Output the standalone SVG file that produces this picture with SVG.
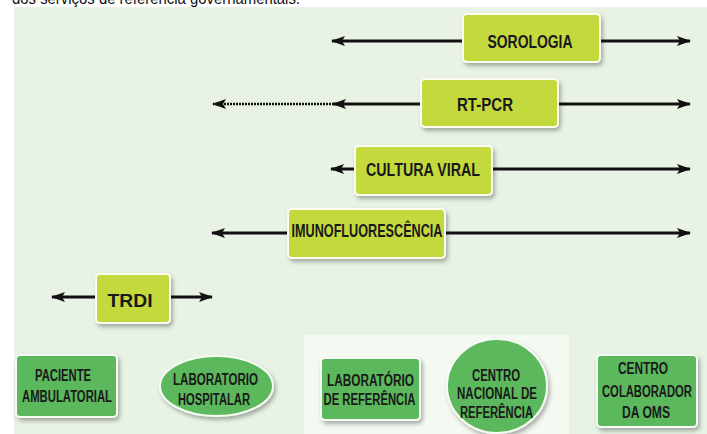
<svg xmlns="http://www.w3.org/2000/svg" width="707" height="434" viewBox="0 0 707 434">
<defs>
<style>
.lime{fill:#c4d93e;stroke:#fbfdf0;stroke-width:2}
.dg{fill:#5cb85b;stroke:#f6fbf4;stroke-width:2}
.t{font-family:"Liberation Sans",Arial,sans-serif;font-weight:bold;fill:#1a1a1a;text-anchor:middle}
.big{font-size:19px}
.sm{font-size:16px}
.ln{stroke:#111;stroke-width:3;fill:none}
.dot{stroke:#111;stroke-width:2.5;fill:none;stroke-dasharray:2 1}
</style>
<marker id="ah" viewBox="0 0 14 10" refX="13" refY="5" markerWidth="14" markerHeight="10" markerUnits="userSpaceOnUse" orient="auto">
<path d="M0,0 L14,5 L0,10 L3,5 Z" fill="#111"/>
</marker>
<filter id="sh" x="-20%" y="-20%" width="150%" height="160%">
<feDropShadow dx="2" dy="3" stdDeviation="2" flood-color="#000" flood-opacity="0.3"/>
</filter>
</defs>
<rect x="0" y="0" width="707" height="434" fill="#ffffff"/>
<text x="12" y="4" font-family="Liberation Sans,Arial,sans-serif" font-size="16" fill="#111" textLength="288" lengthAdjust="spacingAndGlyphs">dos serviços de referência governamentais.</text>
<rect x="14" y="7" width="693" height="427" fill="#e8f3e5"/>
<rect x="304" y="335" width="265" height="99" fill="#f4f9f2"/>

<g id="connectors">
<line class="ln" x1="463" y1="41" x2="332" y2="41" marker-end="url(#ah)"/>
<line class="ln" x1="600" y1="41" x2="690" y2="41" marker-end="url(#ah)"/>
<line class="ln" x1="421" y1="104" x2="333" y2="104" marker-end="url(#ah)"/>
<line class="dot" x1="334" y1="104" x2="213" y2="104" marker-end="url(#ah)"/>
<line class="ln" x1="558" y1="104" x2="690" y2="104" marker-end="url(#ah)"/>
<line class="ln" x1="355" y1="169" x2="331" y2="169" marker-end="url(#ah)"/>
<line class="ln" x1="492" y1="169" x2="690" y2="169" marker-end="url(#ah)"/>
<line class="ln" x1="288" y1="233" x2="212" y2="233" marker-end="url(#ah)"/>
<line class="ln" x1="445" y1="233" x2="690" y2="233" marker-end="url(#ah)"/>
<line class="ln" x1="96" y1="297" x2="52" y2="297" marker-end="url(#ah)"/>
<line class="ln" x1="170" y1="297" x2="212" y2="297" marker-end="url(#ah)"/>
</g>

<g id="sorologia">
<rect class="lime" x="463" y="14" width="137" height="48" rx="4" filter="url(#sh)"/>
<text class="t big" x="530" y="48" textLength="85" lengthAdjust="spacingAndGlyphs">SOROLOGIA</text>
</g>
<g id="rtpcr">
<rect class="lime" x="421" y="79" width="137" height="48" rx="4" filter="url(#sh)"/>
<text class="t big" x="485" y="111" textLength="56" lengthAdjust="spacingAndGlyphs">RT-PCR</text>
</g>
<g id="cultura">
<rect class="lime" x="355" y="146" width="137" height="49" rx="4" filter="url(#sh)"/>
<text class="t big" x="423" y="176" textLength="114" lengthAdjust="spacingAndGlyphs">CULTURA VIRAL</text>
</g>
<g id="imuno">
<rect class="lime" x="288" y="209" width="157" height="49" rx="4" filter="url(#sh)"/>
<text class="t big" x="367" y="237" textLength="151" lengthAdjust="spacingAndGlyphs">IMUNOFLUORESCÊNCIA</text>
</g>
<g id="trdi">
<rect class="lime" x="96" y="274" width="74" height="49" rx="4" filter="url(#sh)"/>
<text class="t big" x="130" y="307" textLength="45" lengthAdjust="spacingAndGlyphs">TRDI</text>
</g>

<g id="paciente">
<rect class="dg" x="16" y="355" width="101" height="62" rx="4" filter="url(#sh)"/>
<text class="t sm" x="63" y="381" textLength="56" lengthAdjust="spacingAndGlyphs">PACIENTE</text>
<text class="t sm" x="67" y="402" textLength="90" lengthAdjust="spacingAndGlyphs">AMBULATORIAL</text>
</g>
<g id="labhosp">
<ellipse class="dg" cx="216.5" cy="386" rx="56.5" ry="30" filter="url(#sh)"/>
<text class="t sm" x="215.5" y="385" textLength="85" lengthAdjust="spacingAndGlyphs">LABORATORIO</text>
<text class="t sm" x="214" y="405" textLength="72" lengthAdjust="spacingAndGlyphs">HOSPITALAR</text>
</g>
<g id="labref">
<rect class="dg" x="321" y="358" width="99" height="62" rx="4" filter="url(#sh)"/>
<text class="t sm" x="370.5" y="386" textLength="87" lengthAdjust="spacingAndGlyphs">LABORATÓRIO</text>
<text class="t sm" x="369.5" y="405" textLength="92" lengthAdjust="spacingAndGlyphs">DE REFERÊNCIA</text>
</g>
<g id="cnr">
<ellipse class="dg" cx="497" cy="386" rx="50" ry="47" filter="url(#sh)"/>
<text class="t sm" x="496" y="381" textLength="48" lengthAdjust="spacingAndGlyphs">CENTRO</text>
<text class="t sm" x="497" y="399" textLength="80" lengthAdjust="spacingAndGlyphs">NACIONAL DE</text>
<text class="t sm" x="496.5" y="418" textLength="73" lengthAdjust="spacingAndGlyphs">REFERÊNCIA</text>
</g>
<g id="oms">
<rect class="dg" x="597" y="355" width="100" height="72" rx="4" filter="url(#sh)"/>
<text class="t sm" x="643" y="374" textLength="50" lengthAdjust="spacingAndGlyphs">CENTRO</text>
<text class="t sm" x="647" y="397" textLength="90" lengthAdjust="spacingAndGlyphs">COLABORADOR</text>
<text class="t sm" x="646" y="418" textLength="48" lengthAdjust="spacingAndGlyphs">DA OMS</text>
</g>
</svg>
